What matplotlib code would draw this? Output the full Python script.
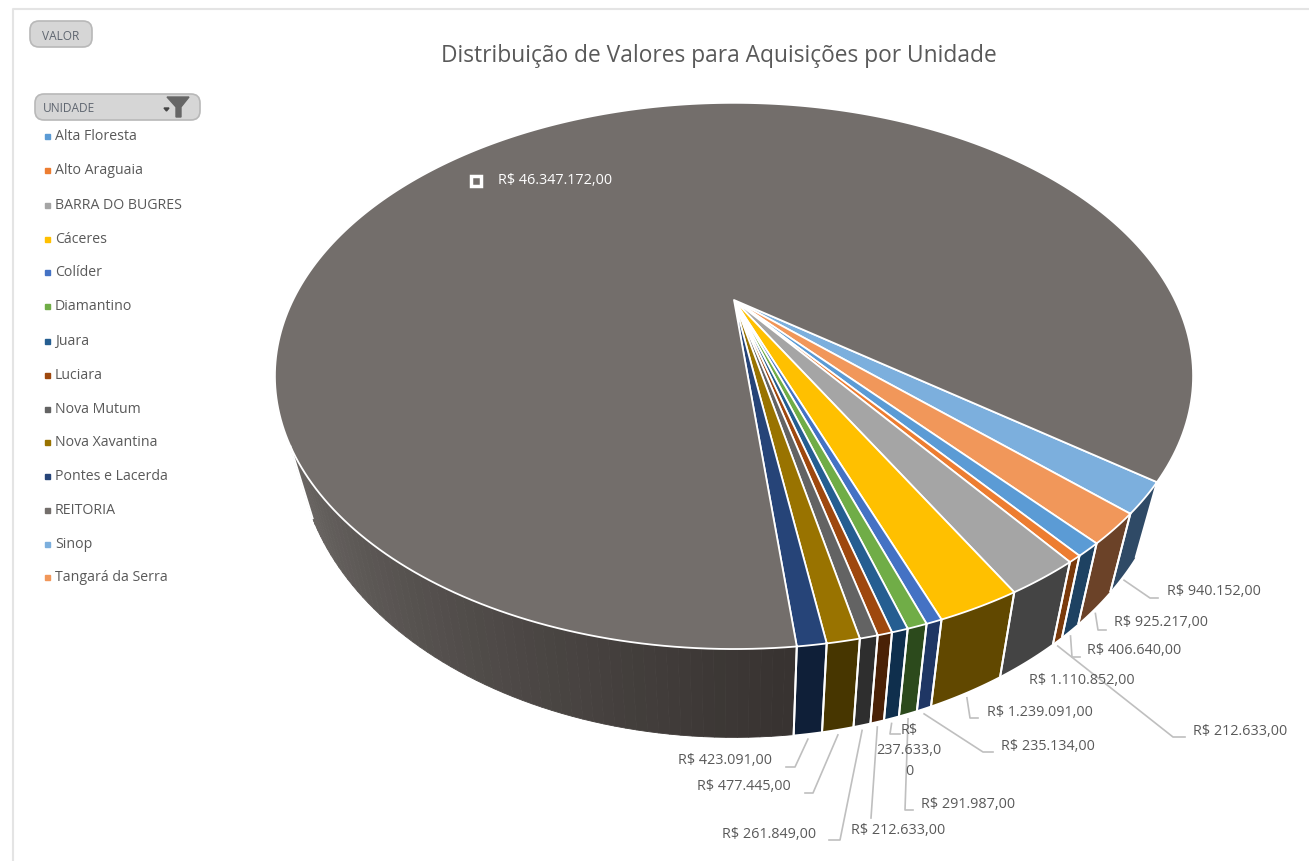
import numpy as np
import matplotlib
matplotlib.use('Agg')
import matplotlib.pyplot as plt
from matplotlib.patches import FancyBboxPatch, Rectangle

plt.rcParams['font.family'] = ['Open Sans', 'DejaVu Sans']

# dados (ordem da legenda)
unidades = ['Alta Floresta', 'Alto Araguaia', 'BARRA DO BUGRES', 'Cáceres', 'Colíder', 'Diamantino', 'Juara',
            'Luciara', 'Nova Mutum', 'Nova Xavantina', 'Pontes e Lacerda', 'REITORIA', 'Sinop', 'Tangará da Serra']
valores = [406640, 212633, 1110852, 1239091, 235134, 291987, 237633,
           212633, 261849, 477445, 423091, 46347172, 940152, 925217]
titulo = 'Distribuição de Valores para Aquisições por Unidade'

cor_topo = ['#5b9bd5', '#ed7d31', '#a5a5a5', '#ffc000', '#4472c4', '#70ad47', '#255e91',
            '#9e480e', '#636363', '#997300', '#264478', '#736e6b', '#7cafdd', '#f1975a']
cor_lado = ['#1e4262', '#7a3a0b', '#444444', '#614800', '#1f3664', '#2c4a1c', '#0f2f4d',
            '#4a2106', '#2e2e2e', '#473600', '#0f1f38', '#3c3836', '#2f4a66', '#6b4228']

# geometria da pizza em perspectiva
CX, CY = 734, 301
R, A, K = 441, 252, 0.278
INICIO = -37          # graus, sentido horario a partir de Sinop
primeira = unidades.index('Sinop')


def topo(t):
    t = np.radians(t)
    x, y = np.cos(t), np.sin(t)
    return CX + R * x / (1 + K * y), CY - A * y / (1 + K * y)


def base(t):
    x, y = topo(t)
    return CX + 0.95 * (x - CX), y + 72 + 0.081 * (y - 448)


def moeda(v):
    return 'R$ ' + f'{v:,}'.replace(',', '.') + ',00'


fig = plt.figure(figsize=(13.09, 8.62), dpi=100)
ax = fig.add_axes([0, 0, 1, 1])
ax.set_xlim(0, 1309)
ax.set_ylim(862, 0)
ax.axis('off')

# moldura
ax.plot([13, 13, 1309], [862, 10, 10], color='#e4e4e4', lw=1.5)

# angulos de cada fatia
ordem = [(primeira + i) % len(valores) for i in range(len(valores))]
total = sum(valores)
angulos = {}
a0 = INICIO
for i in ordem:
    a1 = a0 - valores[i] / total * 360
    angulos[i] = (a0, a1)
    a0 = a1

# lateral (visivel so entre -150 e -30 graus)
reitoria = unidades.index('REITORIA')
for i in ordem:
    a0, a1 = angulos[i]
    trechos = [(a0, a1)]
    if i == reitoria:
        trechos = [(-30, INICIO), (a1 + 360 - 360, -150)] if a1 > -150 else [(-30 - 360, a1), (a0, -150)]
        trechos = [(a1, -30 - 360), (a0, -150)]
    for b0, b1 in trechos:
        if b0 < -150 or b1 > -30 and i != reitoria:
            continue
        t = np.linspace(b0, b1, 60)
        xt, yt = topo(t)
        xb, yb = base(t)
        if i == reitoria:
            # degrade da lateral grande
            cores = np.array([[0x2a, 0x2a, 0x2a]] * 59, dtype=float)
            if b0 < -80:
                f = (t[:-1] + 150) / 65
                ini = np.array([0x6a, 0x66, 0x63])
                fim = np.array([0x38, 0x33, 0x31])
                cores = ini + (fim - ini)[None, :] * np.clip(f, 0, 1)[:, None]
            for j in range(59):
                ax.fill([xt[j], xt[j + 1], xb[j + 1], xb[j]], [yt[j], yt[j + 1], yb[j + 1], yb[j]],
                        color=cores[j] / 255, lw=0.6)
        else:
            ax.fill(np.r_[xt, xb[::-1]], np.r_[yt, yb[::-1]], facecolor=cor_lado[i], edgecolor='none')
        ax.plot([xt[0], xb[0]], [yt[0], yb[0]], color='white', lw=1.4)
        ax.plot([xt[-1], xb[-1]], [yt[-1], yb[-1]], color='white', lw=1.4)

# topo
for i in ordem:
    a0, a1 = angulos[i]
    t = np.linspace(a0, a1, 300)
    x, y = topo(t)
    ax.fill(np.r_[CX, x], np.r_[CY, y], facecolor=cor_topo[i], edgecolor='white', lw=1.3, joinstyle='round')

# legenda e botoes
legenda_y = [137, 171, 206, 240, 273, 307, 342, 376, 410, 443, 477, 511, 545, 578]
for nome, cor, yy in zip(unidades, cor_topo, legenda_y):
    ax.add_patch(Rectangle((44.5, yy - 2.5), 5, 5, color=cor))
    ax.text(55, yy, nome, fontsize=10.2, color='#595959', va='center')

for x0, y0, w, h in [(30, 22, 62, 26), (35, 95, 165, 26)]:
    ax.add_patch(FancyBboxPatch((x0 + 7, y0 + 7), w - 14, h - 14, boxstyle='round,pad=7,rounding_size=9',
                                facecolor='#d6d6d6', edgecolor='#b8b8b8', lw=1.2))
ax.text(61, 36, 'VALOR', fontsize=8.6, color='#5f6670', ha='center', va='center')
ax.text(43, 109, 'UNIDADE', fontsize=8.6, color='#5f6670', va='center')
ax.fill([167, 189, 181, 181, 176, 176], [98, 98, 108, 118, 118, 108], color='#666666')
ax.fill([164, 169, 166.5], [109, 109, 112], color='#444444')

ax.text(719, 56, titulo, fontsize=16.4, color='#595959', ha='center', va='center')

# rotulos (na ordem das fatias)
texto_x = [1167, 1114, 1087, 1193, 1029, 987, 1001, 921, 909, 851, 722, 697, 678]
texto_y = [592, 623, 651, 732, 681, 713, 747, 805, 751, 831, 835, 787, 761]
cotovelos = [
    [(1150, 599), (1158, 599)],
    [(1098, 631), (1106, 631)],
    [(1072, 658), (1080, 658)],
    [(1173, 738), (1185, 738)],
    [],
    [(970, 719), (978, 719)],
    [(983, 753), (993, 753)],
    [(905, 811), (913, 811)],
    [(890, 735), (900, 735)],
    [(871, 819)],
    [(840, 841), (829, 841)],
    [(813, 794), (805, 794)],
    [(795, 768), (786, 768)],
]
rot_ordem = [i for i in ordem if i != reitoria]
for i, tx, ty, cot in zip(rot_ordem, texto_x, texto_y, cotovelos):
    if cot:
        a0, a1 = angulos[i]
        x0, y0 = base((a0 + a1) / 2)
        xs = [x0] + [c[0] for c in cot]
        ys = [y0 + 6] + [c[1] for c in cot]
        ax.plot(xs, ys, color='#bfbfbf', lw=1.2)
    if unidades[i] == 'Juara':
        ax.text(tx, ty, 'R$\n237.633,0\n0', fontsize=10.4, color='#595959', ha='center', va='center', linespacing=1.5)
    else:
        ax.text(tx, ty, moeda(valores[i]), fontsize=10.4, color='#595959', va='center')

# rotulo da fatia maior
ax.add_patch(Rectangle((471, 177), 10, 10, facecolor='#736e6b', edgecolor='white', lw=2.5))
ax.text(498, 181, moeda(valores[reitoria]), fontsize=10.4, color='white', va='center')

fig.savefig('out.png', dpi=100)
